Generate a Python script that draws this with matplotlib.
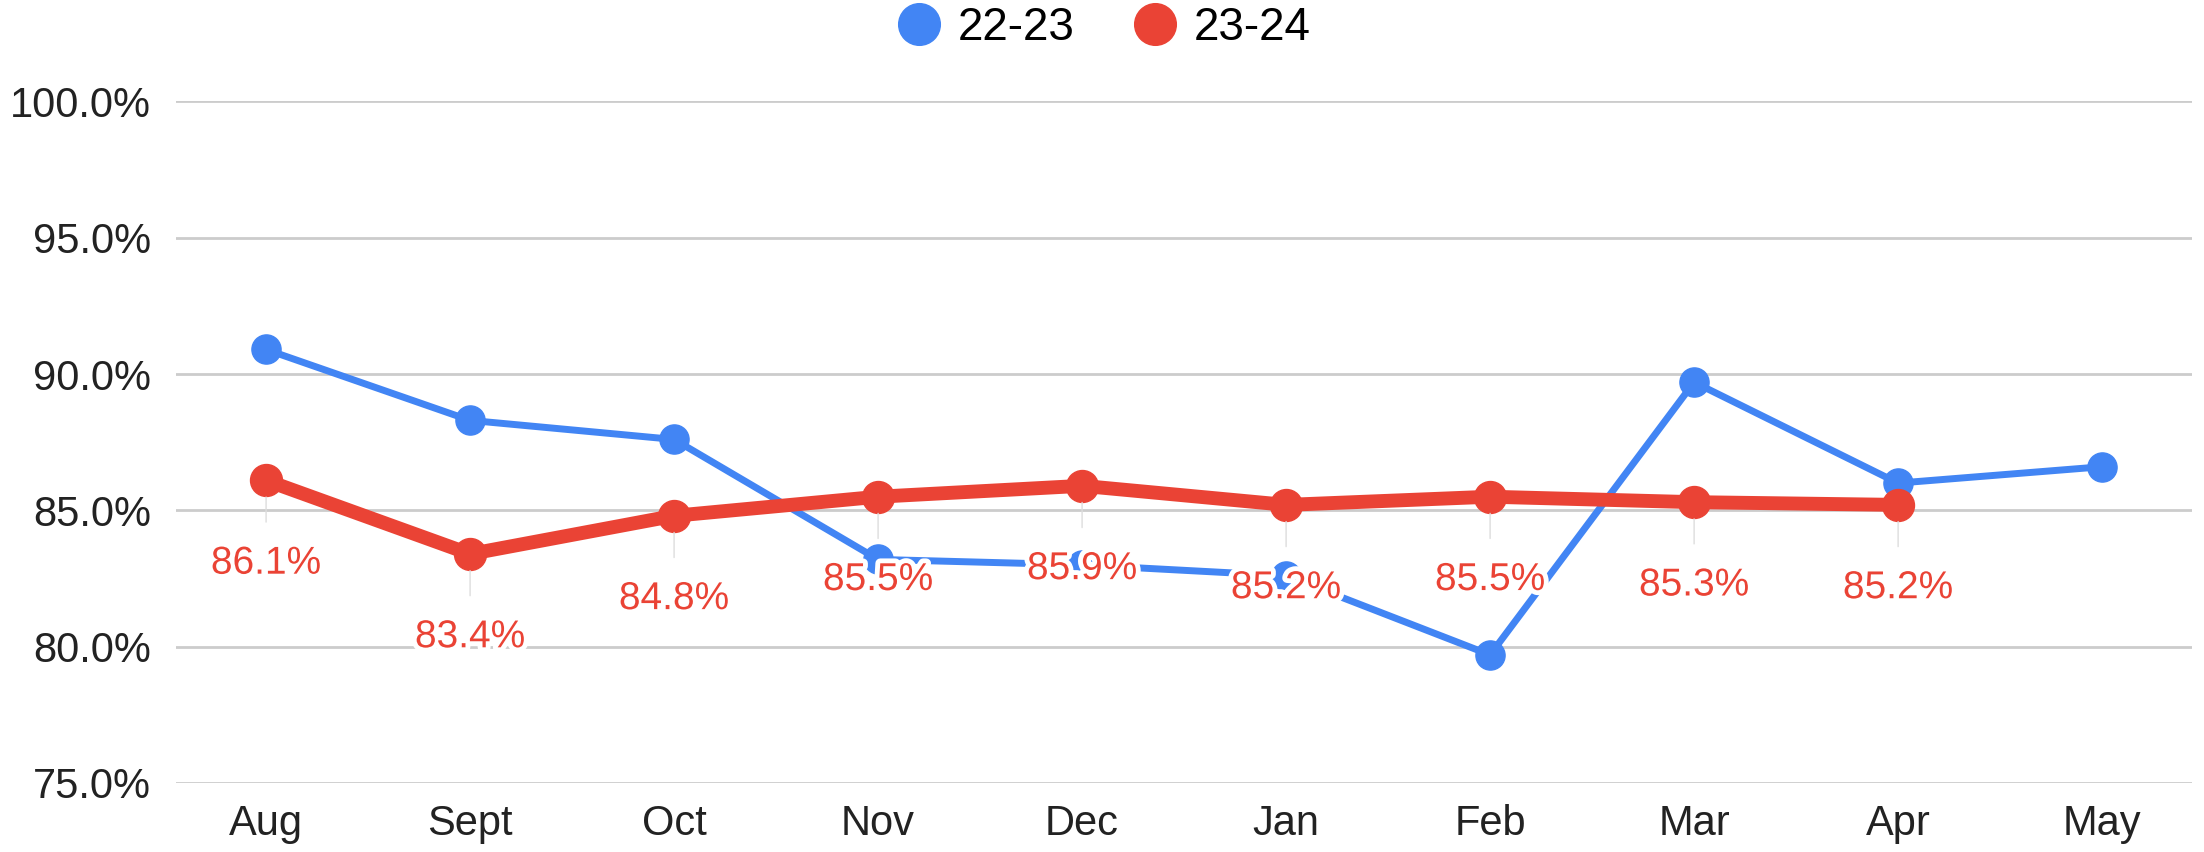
import matplotlib
matplotlib.use("Agg")
import matplotlib.pyplot as plt
import matplotlib.patheffects as pe
from matplotlib.lines import Line2D
from matplotlib.ticker import FuncFormatter

plt.rcParams['font.family'] = ['Liberation Sans', 'DejaVu Sans']

# data
months = ['Aug', 'Sept', 'Oct', 'Nov', 'Dec', 'Jan', 'Feb', 'Mar', 'Apr', 'May']
rate_22_23 = [90.9, 88.3, 87.6, 83.2, 83.0, 82.6, 79.7, 89.7, 86.0, 86.6]
rate_23_24 = [86.1, 83.4, 84.8, 85.5, 85.9, 85.2, 85.5, 85.3, 85.2]
labels_23_24 = ['86.1%', '83.4%', '84.8%', '85.5%', '85.9%', '85.2%', '85.5%', '85.3%', '85.2%']
yticks = [75, 80, 85, 90, 95, 100]

blue = '#4285F4'
red = '#EA4335'

fig = plt.figure(figsize=(22.04, 8.52), dpi=100)
ax = fig.add_axes([0.080, 0.081, 0.9145, 0.80])

x1 = list(range(len(rate_22_23)))
x2 = list(range(len(rate_23_24)))

ax.plot(x1, rate_22_23, color=blue, lw=5, marker='o', ms=21, zorder=3)
ax.plot(x2, rate_23_24, color=red, lw=10, marker='o', ms=23, zorder=4)

# data labels under the red series, with thin leader lines
for i, (v, lab) in enumerate(zip(rate_23_24, labels_23_24)):
    ax.annotate(lab, xy=(i, v), xytext=(0, -60), textcoords='offset points',
                ha='center', va='center', fontsize=28, color=red, zorder=6,
                path_effects=[pe.withStroke(linewidth=7, foreground='white')],
                arrowprops=dict(arrowstyle='-', color='#dddddd', lw=1,
                                shrinkA=15, shrinkB=12))

ax.set_xlim(-0.44, 9.44)
ax.set_ylim(75, 100)
ax.set_yticks(yticks)
ax.yaxis.set_major_formatter(FuncFormatter(lambda v, p: f'{v:.1f}%'))
ax.set_xticks(x1)
ax.set_xticklabels(months)
ax.tick_params(axis='y', length=0, pad=18, labelsize=30, labelcolor='#222222')
ax.tick_params(axis='x', length=0, pad=15, labelsize=30, labelcolor='#222222')
ax.grid(axis='y', color='#cccccc', lw=2, zorder=0)
ax.set_axisbelow(True)
for s in ax.spines.values():
    s.set_visible(False)

handles = [Line2D([], [], ls='none', marker='o', ms=30, color=blue),
           Line2D([], [], ls='none', marker='o', ms=30, color=red)]
fig.legend(handles, ['22-23', '23-24'], loc='center', bbox_to_anchor=(0.5, 0.967),
           ncol=2, frameon=False, fontsize=33, handletextpad=0.3,
           columnspacing=1.2, handlelength=1.1)

fig.savefig('out.png', dpi=100, facecolor='white')
